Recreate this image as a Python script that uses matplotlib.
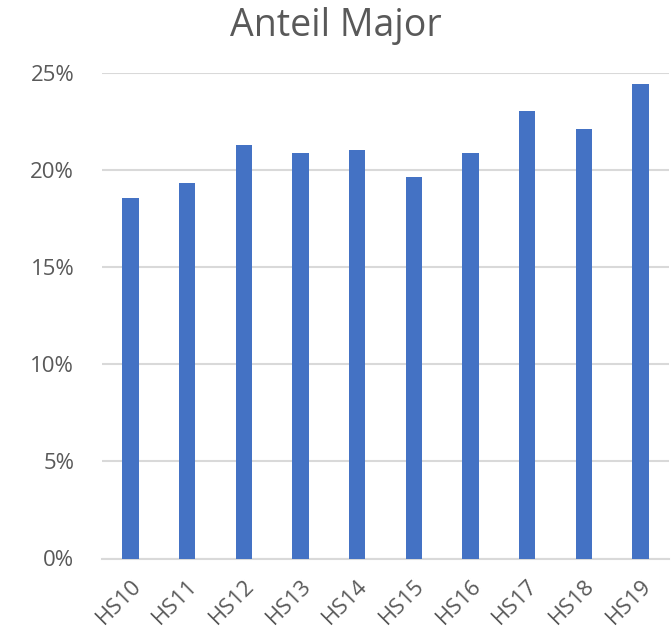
import matplotlib
matplotlib.use("Agg")
import matplotlib.pyplot as plt
from matplotlib.ticker import FuncFormatter

categories = ["HS10", "HS11", "HS12", "HS13", "HS14", "HS15", "HS16", "HS17", "HS18", "HS19"]
values = [18.56, 19.36, 21.29, 20.88, 21.03, 19.64, 20.88, 23.07, 22.11, 24.45]
yticks = [0, 5, 10, 15, 20, 25]

plt.rcParams['font.family'] = ['Open Sans', 'DejaVu Sans']
fig = plt.figure(figsize=(6.72, 6.35), dpi=100)
ax = fig.add_axes([102/672, 1 - 558.5/635, (669-102)/672, (558.5-73.3)/635])

x = range(len(categories))
ax.bar(x, values, width=0.29, color="#4472C4", zorder=3)
ax.set_xlim(-0.5, len(categories) - 0.5)
ax.set_ylim(0, 25)
ax.set_yticks(yticks)
ax.yaxis.set_major_formatter(FuncFormatter(lambda v, p: f"{int(v)}%"))
ax.grid(axis='y', color="#D9D9D9", linewidth=1.5, zorder=0)
for s in ['top', 'right', 'left']:
    ax.spines[s].set_visible(False)
ax.spines['bottom'].set_color("#D9D9D9")
ax.spines['bottom'].set_linewidth(1.5)
ax.tick_params(axis='both', length=0, colors="#595959", labelsize=16)
ax.tick_params(axis='y', pad=20)
ax.set_xticks(list(x))
ax.set_xticklabels(categories, rotation=45, ha='right', rotation_mode='anchor')
ax.tick_params(axis='x', pad=12)
fig.text(0.5, 1 - 26/635, "Anteil Major", ha='center', va='center', fontsize=27, color="#595959")
fig.savefig("out.png", dpi=100)
